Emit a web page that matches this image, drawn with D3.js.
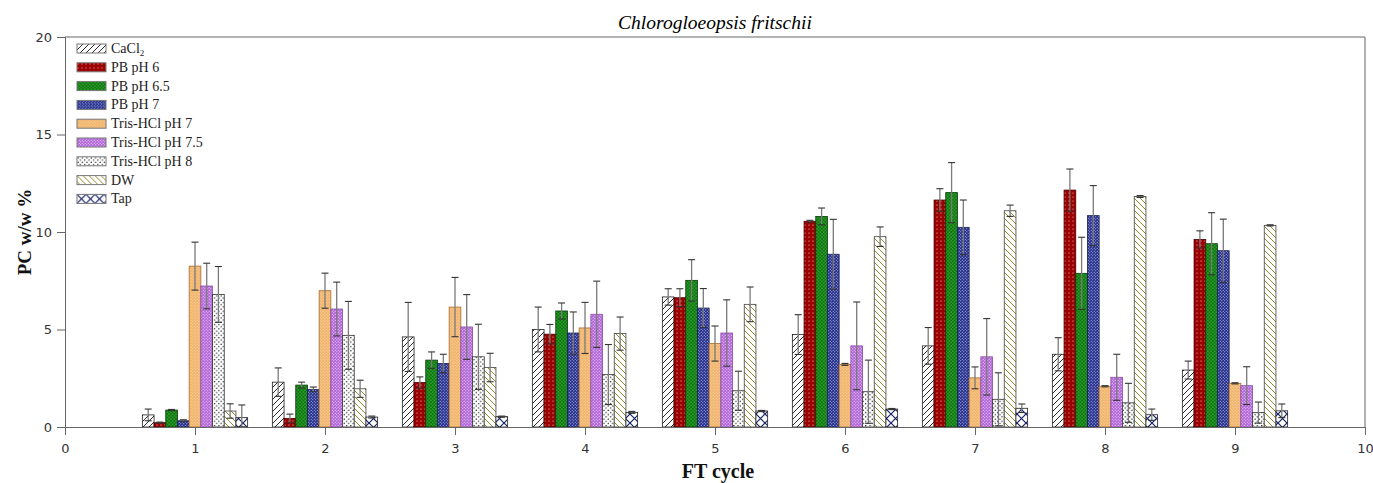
<!DOCTYPE html>
<html>
<head>
<meta charset="utf-8">
<script src="https://cdn.jsdelivr.net/npm/d3@7"></script>
<style>
  body { margin: 0; background: #fff; }
  svg { display: block; }
</style>
</head>
<body>
<div id="chart"></div>
<script>
// PC w/w % per freeze-thaw cycle, one series per buffer

const cycles = [1, 2, 3, 4, 5, 6, 7, 8, 9];
const xTicks = [0, 1, 2, 3, 4, 5, 6, 7, 8, 9, 10];
const yTicks = [0, 5, 10, 15, 20];

const seriesNames = ["CaCl2", "PB pH 6", "PB pH 6.5", "PB pH 7", "Tris-HCl pH 7",
    "Tris-HCl pH 7.5", "Tris-HCl pH 8", "DW", "Tap"];

const cacl2   = [0.62, 2.30, 4.62, 5.00, 6.67, 4.74, 4.16, 3.73, 2.92];
const pb6     = [0.22, 0.44, 2.28, 4.76, 6.63, 10.55, 11.64, 12.15, 9.62];
const pb65    = [0.87, 2.15, 3.43, 5.95, 7.52, 10.80, 12.02, 7.88, 9.40];
const pb7     = [0.32, 1.93, 3.26, 4.82, 6.10, 8.86, 10.24, 10.84, 9.04];
const tris7   = [8.25, 6.99, 6.15, 5.08, 4.28, 3.21, 2.52, 2.09, 2.24];
const tris75  = [7.23, 6.05, 5.13, 5.78, 4.82, 4.16, 3.60, 2.55, 2.12];
const tris8   = [6.80, 4.70, 3.60, 2.69, 1.86, 1.81, 1.42, 1.24, 0.74];
const dw      = [0.82, 1.96, 3.05, 4.79, 6.29, 9.76, 11.09, 11.82, 10.34];
const tap     = [0.48, 0.51, 0.53, 0.75, 0.82, 0.92, 0.96, 0.63, 0.83];

const cacl2Err  = [0.30, 0.73, 1.77, 1.15, 0.42, 1.02, 0.94, 0.85, 0.46];
const pb6Err    = [0.03, 0.22, 0.29, 0.50, 0.46, 0.05, 0.58, 1.08, 0.44];
const pb65Err   = [0.03, 0.15, 0.42, 0.41, 1.06, 0.43, 1.54, 1.85, 1.59];
const pb7Err    = [0.05, 0.12, 0.47, 1.08, 1.00, 1.79, 1.40, 1.54, 1.62];
const tris7Err  = [1.23, 0.90, 1.52, 1.31, 0.90, 0.05, 0.56, 0.03, 0.03];
const tris75Err = [1.17, 1.38, 1.66, 1.70, 1.70, 2.25, 1.96, 1.18, 0.97];
const tris8Err  = [1.43, 1.74, 1.67, 1.54, 1.00, 1.62, 1.36, 1.00, 0.54];
const dwErr     = [0.37, 0.44, 0.73, 0.85, 0.89, 0.50, 0.29, 0.05, 0.03];
const tapErr    = [0.65, 0.05, 0.03, 0.05, 0.03, 0.03, 0.22, 0.29, 0.35];

const values = [cacl2, pb6, pb65, pb7, tris7, tris75, tris8, dw, tap];
const errors = [cacl2Err, pb6Err, pb65Err, pb7Err, tris7Err, tris75Err, tris8Err, dwErr, tapErr];

const W = 1373, H = 483;
const plotLeft = 65, plotRight = 1365, plotTop = 37, plotBottom = 427;
const axisColor = "#666";
const serif = "'Liberation Serif', 'Times New Roman', serif";
const sans = "'DejaVu Sans', Verdana, sans-serif";

const svg = d3.select("#chart").append("svg")
    .attr("width", W)
    .attr("height", H);

const x = d3.scaleLinear().domain([0, 10]).range([plotLeft, plotRight]);
const y = d3.scaleLinear().domain([0, 20]).range([plotBottom, plotTop]);
const groupW = x(0.81) - x(0);
const inner = d3.scaleBand().domain(seriesNames).range([-groupW / 2, groupW / 2]);

// fill patterns, one per series
const defs = svg.append("defs");

function lines(id, spacing, color, dir, bg, sw) {
    const p = defs.append("pattern").attr("id", id)
        .attr("patternUnits", "userSpaceOnUse")
        .attr("width", spacing).attr("height", spacing);
    p.append("rect").attr("width", spacing).attr("height", spacing).attr("fill", bg);
    const s = spacing;
    const d = dir > 0
        ? `M0,${s} L${s},0 M${-s / 2},${s / 2} L${s / 2},${-s / 2} M${s / 2},${s * 1.5} L${s * 1.5},${s / 2}`
        : `M0,0 L${s},${s} M${-s / 2},${s / 2} L${s / 2},${s * 1.5} M${s / 2},${-s / 2} L${s * 1.5},${s / 2}`;
    p.append("path").attr("d", d).attr("stroke", color).attr("stroke-width", sw);
}

function dots(id, w, h, bg, dot, r, stagger) {
    const p = defs.append("pattern").attr("id", id)
        .attr("patternUnits", "userSpaceOnUse")
        .attr("width", w).attr("height", h);
    p.append("rect").attr("width", w).attr("height", h).attr("fill", bg);
    p.append("circle").attr("cx", w / 4).attr("cy", h / 4).attr("r", r).attr("fill", dot);
    if (stagger) {
        p.append("circle").attr("cx", w * 3 / 4).attr("cy", h * 3 / 4).attr("r", r).attr("fill", dot);
    }
}

lines("p0", 6, "#111", 1, "#fff", 0.9);
dots("p1", 4, 4, "#9c0000", "#f6d6d6", 0.6, false);
dots("p2", 3.4, 3.4, "#067a06", "#d0f0d0", 0.5, true);
dots("p3", 3, 3, "#25308e", "#dfe2f6", 0.5, true);
dots("p4", 3, 3, "#f1b56c", "#f9d8ae", 0.55, true);
dots("p5", 3, 3, "#b266d8", "#f4e4fb", 0.55, true);
dots("p6", 4.4, 4.4, "#fff", "#111", 0.7, true);
lines("p7", 6, "#8e8e2e", -1, "#fff", 1);

const tapP = defs.append("pattern").attr("id", "p8")
    .attr("patternUnits", "userSpaceOnUse")
    .attr("width", 9).attr("height", 9);
tapP.append("rect").attr("width", 9).attr("height", 9).attr("fill", "#fff");
tapP.append("path").attr("d", "M0,0 L9,9 M9,0 L0,9")
    .attr("stroke", "#142266").attr("stroke-width", 1.2);

const strokes = ["#222", "#4a0000", "#0a3a0a", "#1a1f5a", "#a86a30", "#8a4aa8", "#333", "#444", "#222"];

// frame: top and right
svg.append("line").attr("x1", plotLeft).attr("x2", plotRight).attr("y1", plotTop).attr("y2", plotTop)
    .attr("stroke", axisColor).attr("stroke-width", 1);
svg.append("line").attr("x1", plotRight).attr("x2", plotRight).attr("y1", plotTop).attr("y2", plotBottom)
    .attr("stroke", axisColor).attr("stroke-width", 1);

// bars
const barData = [];
seriesNames.forEach((name, s) => {
    cycles.forEach((c, i) => {
        barData.push({ name: name, s: s, cycle: c, value: values[s][i], err: errors[s][i] });
    });
});

svg.append("g").selectAll("rect")
    .data(barData)
    .enter()
    .append("rect")
    .attr("x", d => x(d.cycle) + inner(d.name))
    .attr("y", d => y(d.value))
    .attr("width", inner.bandwidth())
    .attr("height", d => y(0) - y(d.value))
    .attr("fill", d => `url(#p${d.s})`)
    .attr("stroke", d => strokes[d.s])
    .attr("stroke-width", 0.8);

// error bars
const eb = svg.append("g");
barData.forEach(d => {
    const cx = x(d.cycle) + inner(d.name) + inner.bandwidth() / 2;
    const y1 = y(d.value + d.err), y2 = y(Math.max(0, d.value - d.err));
    eb.append("line").attr("x1", cx).attr("x2", cx).attr("y1", y1).attr("y2", y2)
        .attr("stroke", "#7a7a7a").attr("stroke-width", 1.3);
    [y1, y2].forEach(yy => {
        eb.append("line").attr("x1", cx - 3.5).attr("x2", cx + 3.5).attr("y1", yy).attr("y2", yy)
            .attr("stroke", "#333").attr("stroke-width", 1.1);
    });
});

// axes
const xAxis = svg.append("g")
    .attr("transform", `translate(0,${plotBottom})`)
    .call(d3.axisBottom(x).tickValues(xTicks).tickSize(8).tickPadding(9).tickFormat(d3.format("d")));
const yAxis = svg.append("g")
    .attr("transform", `translate(${plotLeft},0)`)
    .call(d3.axisLeft(y).tickValues(yTicks).tickSize(8).tickPadding(5).tickFormat(d3.format("d")));

[xAxis, yAxis].forEach(a => {
    a.select(".domain").attr("stroke", axisColor);
    a.selectAll(".tick line").attr("stroke", axisColor);
    a.selectAll(".tick text")
        .attr("fill", "#333")
        .style("font-family", sans)
        .style("font-size", "13px");
});

// titles
svg.append("text")
    .attr("x", (plotLeft + plotRight) / 2)
    .attr("y", 29)
    .attr("text-anchor", "middle")
    .style("font-family", serif)
    .style("font-style", "italic")
    .style("font-size", "19.5px")
    .attr("fill", "#000")
    .text("Chlorogloeopsis fritschii");

svg.append("text")
    .attr("x", (plotLeft + plotRight) / 2 + 3)
    .attr("y", 478)
    .attr("text-anchor", "middle")
    .style("font-family", serif)
    .style("font-weight", "bold")
    .style("font-size", "20px")
    .attr("fill", "#111")
    .text("FT cycle");

svg.append("text")
    .attr("transform", `translate(31,${(plotTop + plotBottom) / 2}) rotate(-90)`)
    .attr("text-anchor", "middle")
    .style("font-family", serif)
    .style("font-weight", "bold")
    .style("font-size", "19px")
    .attr("fill", "#111")
    .text("PC w/w %");

// legend
const legend = svg.append("g").attr("transform", "translate(77,44)");
seriesNames.forEach((name, s) => {
    const row = legend.append("g").attr("transform", `translate(0,${s * 18.8})`);
    row.append("rect")
        .attr("width", 29).attr("height", 9)
        .attr("fill", `url(#p${s})`)
        .attr("stroke", "#777").attr("stroke-width", 1);
    const t = row.append("text")
        .attr("x", 34).attr("y", 9)
        .style("font-family", serif)
        .style("font-size", "14px")
        .attr("fill", "#222");
    if (name === "CaCl2") {
        t.append("tspan").text("CaCl");
        t.append("tspan").attr("dy", 3).style("font-size", "9px").text("2");
    } else {
        t.text(name);
    }
});
</script>
</body>
</html>
